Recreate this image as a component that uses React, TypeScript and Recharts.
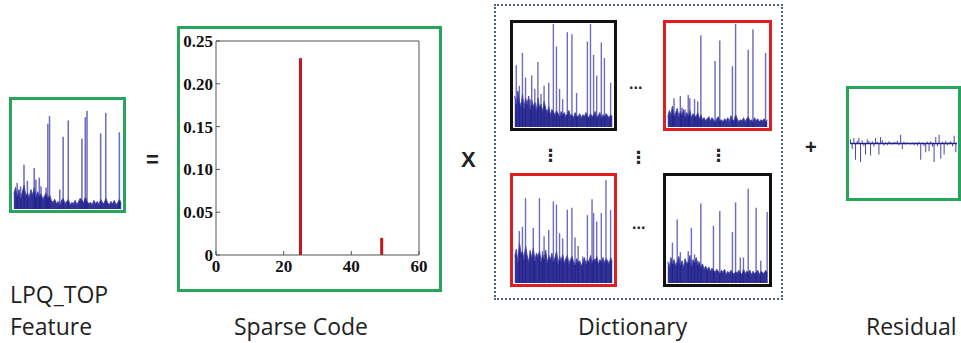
import React from 'react';
import { BarChart, Bar, XAxis, YAxis, ComposedChart, Area, ReferenceLine } from 'recharts';

// sparse code coefficients (atom index -> weight)
const codeIndex = [25, 49];
const codeValue = [0.23, 0.02];
const codeXTicks = [0, 20, 40, 60];
const codeYTicks = [0, 0.05, 0.1, 0.15, 0.2, 0.25];

// LPQ_TOP feature histogram (64 bins): dense floor + sparse peaks
const featureBase = [0.14, 0.2, 0.12, 0.18, 0.1, 0.16, 0.22, 0.12, 0.15, 0.1, 0.18, 0.13, 0.2, 0.11, 0.16, 0.12, 0.14, 0.09, 0.12, 0.15, 0.1, 0.13, 0.08, 0.06, 0.09, 0.05, 0.07, 0.04, 0.08, 0.1, 0.05, 0.07, 0.09, 0.04, 0.06, 0.05, 0.08, 0.04, 0.07, 0.1, 0.08, 0.06, 0.11, 0.07, 0.05, 0.06, 0.04, 0.08, 0.05, 0.07, 0.04, 0.09, 0.06, 0.05, 0.1, 0.06, 0.04, 0.07, 0.05, 0.08, 0.04, 0.06, 0.09, 0.05];
const featurePeakBins = [2, 4, 6, 8, 12, 13, 15, 16, 19, 20, 21, 27, 29, 32, 40, 42, 43, 51, 54, 62];
const featurePeakVals = [0.24, 0.21, 0.41, 0.26, 0.38, 0.27, 0.29, 0.21, 0.2, 0.79, 0.86, 0.18, 0.67, 0.82, 0.65, 0.85, 0.91, 0.7, 0.89, 0.71];

// dictionary atoms
const atomTLBase = [0.3, 0.22, 0.35, 0.25, 0.2, 0.32, 0.18, 0.28, 0.22, 0.3, 0.17, 0.26, 0.2, 0.24, 0.16, 0.28, 0.19, 0.22, 0.15, 0.25, 0.18, 0.14, 0.2, 0.12, 0.17, 0.15, 0.11, 0.16, 0.13, 0.1, 0.15, 0.12, 0.14, 0.1, 0.13, 0.16, 0.11, 0.12, 0.09, 0.14, 0.11, 0.1, 0.13, 0.09, 0.12, 0.1, 0.14, 0.11, 0.09, 0.13, 0.1, 0.12, 0.15, 0.1, 0.11, 0.14, 0.09, 0.12, 0.1, 0.13, 0.11, 0.09, 0.12, 0.1];
const atomTLPeakBins = [1, 3, 5, 7, 10, 11, 13, 15, 17, 19, 22, 25, 27, 29, 31, 34, 37, 40, 47, 49, 51, 53, 56, 58, 62];
const atomTLPeakVals = [0.6, 0.4, 0.72, 0.48, 0.27, 0.5, 0.37, 0.63, 0.32, 0.4, 0.43, 1.0, 0.78, 0.37, 0.27, 0.92, 0.9, 0.33, 0.83, 1.0, 0.7, 0.5, 0.82, 0.67, 0.43];

const atomTRBase = [0.1, 0.16, 0.12, 0.2, 0.11, 0.14, 0.18, 0.1, 0.15, 0.12, 0.17, 0.1, 0.14, 0.11, 0.16, 0.09, 0.13, 0.11, 0.1, 0.14, 0.08, 0.12, 0.07, 0.09, 0.06, 0.08, 0.1, 0.06, 0.09, 0.07, 0.05, 0.08, 0.1, 0.06, 0.07, 0.05, 0.08, 0.06, 0.09, 0.05, 0.11, 0.07, 0.06, 0.12, 0.08, 0.05, 0.07, 0.06, 0.09, 0.05, 0.08, 0.1, 0.06, 0.07, 0.05, 0.09, 0.06, 0.08, 0.05, 0.07, 0.06, 0.08, 0.05, 0.07];
const atomTRPeakBins = [3, 4, 8, 9, 11, 13, 14, 17, 19, 21, 30, 33, 41, 43, 51, 54, 62];
const atomTRPeakVals = [0.2, 0.28, 0.3, 0.19, 0.17, 0.31, 0.28, 0.27, 0.25, 0.89, 0.64, 0.84, 0.59, 1.0, 0.75, 0.95, 0.72];

const atomBLBase = [0.25, 0.32, 0.2, 0.38, 0.28, 0.3, 0.22, 0.35, 0.26, 0.2, 0.3, 0.24, 0.33, 0.21, 0.28, 0.25, 0.3, 0.2, 0.27, 0.23, 0.31, 0.19, 0.26, 0.22, 0.28, 0.2, 0.24, 0.3, 0.18, 0.25, 0.21, 0.27, 0.19, 0.23, 0.26, 0.18, 0.22, 0.25, 0.2, 0.17, 0.23, 0.19, 0.21, 0.16, 0.2, 0.24, 0.18, 0.22, 0.2, 0.26, 0.19, 0.23, 0.21, 0.25, 0.18, 0.22, 0.2, 0.24, 0.19, 0.23, 0.21, 0.18, 0.24, 0.2];
const atomBLPeakBins = [3, 5, 7, 10, 12, 13, 16, 18, 19, 22, 25, 27, 29, 31, 34, 37, 39, 41, 44, 47, 50, 51, 53, 56, 59, 62];
const atomBLPeakVals = [0.49, 0.53, 0.8, 0.31, 0.52, 0.25, 0.8, 0.3, 0.44, 0.5, 0.77, 0.74, 0.47, 0.42, 0.69, 0.71, 0.43, 0.35, 0.25, 0.64, 0.79, 0.66, 0.58, 0.66, 0.97, 0.69];

const atomBRBase = [0.2, 0.15, 0.24, 0.18, 0.22, 0.16, 0.2, 0.25, 0.17, 0.21, 0.15, 0.23, 0.18, 0.2, 0.26, 0.16, 0.22, 0.19, 0.24, 0.17, 0.2, 0.15, 0.18, 0.13, 0.16, 0.12, 0.15, 0.11, 0.14, 0.12, 0.1, 0.13, 0.11, 0.09, 0.12, 0.1, 0.13, 0.08, 0.11, 0.09, 0.12, 0.1, 0.08, 0.11, 0.09, 0.12, 0.1, 0.08, 0.13, 0.09, 0.11, 0.1, 0.12, 0.08, 0.11, 0.09, 0.1, 0.12, 0.08, 0.11, 0.1, 0.09, 0.12, 0.1];
const atomBRPeakBins = [3, 6, 8, 13, 15, 17, 19, 21, 25, 29, 33, 41, 43, 46, 48, 51, 56, 59, 63];
const atomBRPeakVals = [0.38, 0.6, 0.29, 0.3, 0.52, 0.27, 0.21, 0.75, 0.14, 0.54, 0.68, 0.48, 0.76, 0.24, 0.24, 0.89, 0.71, 0.21, 0.67];

// residual (64 bins, signed)
const residual = [0.08, -0.1, 0.1, -0.3, 0.05, 0.1, -0.34, 0.06, -0.05, -0.2, 0.08, 0.05, -0.22, 0.04, -0.06, 0.1, 0.03, -0.2, 0.12, 0.06, -0.04, 0.02, -0.03, 0.04, 0.02, -0.02, 0.03, 0.02, 0.05, -0.03, 0.16, -0.1, 0.03, -0.02, 0.02, 0.01, -0.02, 0.02, -0.03, 0.02, -0.04, 0.03, -0.3, 0.02, -0.05, -0.16, 0.03, -0.14, 0.04, -0.06, -0.34, 0.12, -0.05, 0.16, -0.28, 0.03, -0.2, 0.05, -0.03, 0.02, 0.04, -0.05, 0.14, -0.16];

const GREEN = '#27a55c';
const RED = '#e11d1f';
const BLACK = '#111';

const Spectrum = ({ left, top, w, h, color, base, bins, vals }: any) => {
  const data = base.map((b: number, i: number) => ({ i, base: b, peak: 0 }));
  bins.forEach((b: number, k: number) => { data[b].peak = vals[k]; });
  return (
    <div style={{ position: 'absolute', left, top, width: w, height: h, border: `3px solid ${color}`, boxSizing: 'border-box', background: '#fff' }}>
      <ComposedChart width={w - 6} height={h - 6} data={data} margin={{ top: 1, right: 1, bottom: 1, left: 1 }} barCategoryGap={0}>
        <XAxis dataKey="i" hide />
        <YAxis hide domain={[0, 1]} />
        <Bar dataKey="peak" fill="#6c6cc0" barSize={2} isAnimationActive={false} />
        <Area type="linear" dataKey="base" stroke="#4a4aa8" strokeWidth={1} fill="#1c1c8a" fillOpacity={0.9} isAnimationActive={false} zIndex={350} />
      </ComposedChart>
    </div>
  );
};

const tickFont = { fontFamily: '"Liberation Serif", serif', fontWeight: 'bold', fontSize: 17, fill: '#111' };
const label: React.CSSProperties = { position: 'absolute', fontFamily: '"Open Sans", sans-serif', fontSize: 23, color: '#222', whiteSpace: 'nowrap', lineHeight: 1 };
const op: React.CSSProperties = { position: 'absolute', fontFamily: '"Liberation Sans", Arial, sans-serif', fontWeight: 'bold', color: '#222', lineHeight: 1 };

export default function App() {
  const codeData = codeIndex.map((x, k) => ({ x, v: codeValue[k] }));
  const residualData = residual.map((r, i) => ({ i, r }));

  return (
    <div style={{ position: 'absolute', left: 0, top: 0, width: 961, height: 343, overflow: 'hidden', background: '#fff' }}>
      {/* feature */}
      <Spectrum left={9} top={97} w={117} h={116} color={GREEN} base={featureBase} bins={featurePeakBins} vals={featurePeakVals} />
      <div style={{ ...op, left: 146, top: 149, fontSize: 22 }}>=</div>

      {/* sparse code */}
      <div style={{ position: 'absolute', left: 177, top: 26, width: 265, height: 266, border: `3px solid ${GREEN}`, boxSizing: 'border-box' }} />
      <div style={{ position: 'absolute', left: 177, top: 26 }}>
        <BarChart width={265} height={266} data={codeData} margin={{ top: 14, right: 22, bottom: 7, left: 3 }}>
          <XAxis xAxisId="b" dataKey="x" type="number" domain={[0, 60]} ticks={codeXTicks} height={30}
            stroke="#555" tickSize={-4} tickMargin={9} tick={tickFont} />
          <XAxis xAxisId="t" orientation="top" type="number" domain={[0, 60]} ticks={codeXTicks} height={1}
            stroke="#555" tickSize={-4} tick={false} />
          <YAxis yAxisId="l" type="number" domain={[0, 0.25]} ticks={codeYTicks} width={36}
            stroke="#555" tickSize={-4} tickMargin={7} tick={tickFont}
            tickFormatter={(v: number) => (v === 0 ? '0' : v.toFixed(2))} />
          <YAxis yAxisId="r" orientation="right" type="number" domain={[0, 0.25]} ticks={codeYTicks} width={1}
            stroke="#555" tickSize={-4} tick={false} />
          <Bar xAxisId="b" yAxisId="l" dataKey="v" fill="#c8161d" barSize={3} isAnimationActive={false} />
        </BarChart>
      </div>

      <div style={{ ...op, left: 461, top: 149, fontSize: 22 }}>X</div>

      {/* dictionary */}
      <div style={{ position: 'absolute', left: 494, top: 4, width: 289, height: 296, border: '2px dotted #4a6480', boxSizing: 'border-box' }} />
      <Spectrum left={510} top={20} w={107} h={111} color={BLACK} base={atomTLBase} bins={atomTLPeakBins} vals={atomTLPeakVals} />
      <Spectrum left={663} top={20} w={109} h={111} color={RED} base={atomTRBase} bins={atomTRPeakBins} vals={atomTRPeakVals} />
      <Spectrum left={510} top={173} w={107} h={114} color={RED} base={atomBLBase} bins={atomBLPeakBins} vals={atomBLPeakVals} />
      <Spectrum left={663} top={173} w={109} h={114} color={BLACK} base={atomBRBase} bins={atomBRPeakBins} vals={atomBRPeakVals} />
      <div style={{ ...op, left: 629, top: 76, fontSize: 16 }}>...</div>
      <div style={{ ...op, left: 632, top: 216, fontSize: 16 }}>...</div>
      <div style={{ ...op, left: 542, top: 147, fontSize: 17, fontFamily: '"DejaVu Sans", sans-serif' }}>⋮</div>
      <div style={{ ...op, left: 630, top: 149, fontSize: 17, fontFamily: '"DejaVu Sans", sans-serif' }}>⋮</div>
      <div style={{ ...op, left: 710, top: 147, fontSize: 17, fontFamily: '"DejaVu Sans", sans-serif' }}>⋮</div>

      <div style={{ ...op, left: 805, top: 137, fontSize: 20 }}>+</div>

      {/* residual */}
      <div style={{ position: 'absolute', left: 846, top: 86, width: 115, height: 115, border: `3px solid ${GREEN}`, boxSizing: 'border-box', background: '#fff' }}>
        <ComposedChart width={109} height={109} data={residualData} margin={{ top: 0, right: 1, bottom: 0, left: 1 }} barCategoryGap={0}>
          <XAxis dataKey="i" hide />
          <YAxis hide domain={[-1, 1]} />
          <Bar dataKey="r" fill="#4848a8" barSize={1} isAnimationActive={false} />
          <ReferenceLine y={0} stroke="#22228a" strokeWidth={1.5} />
        </ComposedChart>
      </div>

      {/* captions */}
      <div style={{ ...label, left: 10, top: 283 }}>LPQ_TOP</div>
      <div style={{ ...label, left: 10, top: 315 }}>Feature</div>
      <div style={{ ...label, left: 234, top: 315 }}>Sparse Code</div>
      <div style={{ ...label, left: 578, top: 315 }}>Dictionary</div>
      <div style={{ ...label, left: 866, top: 315 }}>Residual</div>
    </div>
  );
}
